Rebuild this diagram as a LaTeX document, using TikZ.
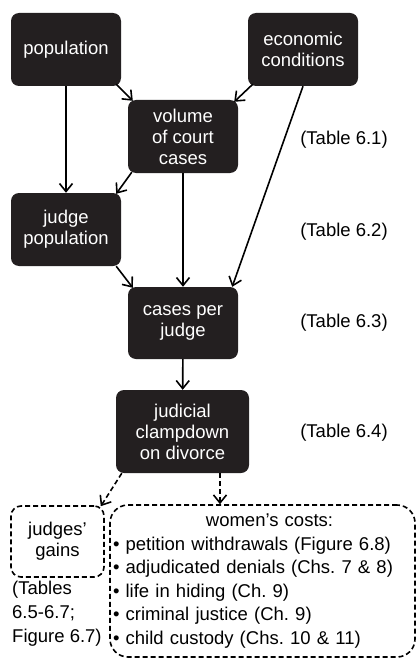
\documentclass[tikz,border=0pt]{standalone}
\usepackage{fontspec}
\setmainfont{Liberation Sans}
\usetikzlibrary{arrows.meta,positioning,calc}
\definecolor{boxblack}{HTML}{231F20}
\frenchspacing

\begin{document}
\begin{tikzpicture}
[x=1pt,y=-1pt,
font=\fontsize{18.5}{21}\selectfont,
>={Straight Barb[length=8pt,width=13pt]},
box/.style={rectangle,rounded corners=8pt,fill=boxblack,text=white,align=center,
  minimum width=110pt,minimum height=73pt,inner sep=0pt},
dbox/.style={rectangle,draw,line width=1.6pt,dash pattern=on 5pt off 3pt,align=center,inner sep=0pt},
note/.style={align=center,inner sep=0pt},
edge/.style={->,line width=1.6pt},
dedge/.style={edge,dash pattern=on 5pt off 3pt}]
\useasboundingbox (0,0) rectangle (417,658);
%% Causes
\node[box] (pop) at (66,49.5) {population};
\node[box] (econ) at (303,49.5) {economic\\conditions};
\node[box] (vol) at (183,136.5) {volume\\of court\\cases};
\node[box] (jpop) at (66,229.5) {judge\\population};
\node[box,minimum height=72pt] (cpj) at (183,323) {cases per\\judge};
\node[box,minimum width=133pt,minimum height=83pt] (clamp) at (182.5,431.5) {judicial\\clampdown\\on divorce};
% table notes
\node[note] (t1) at (344,140) {(Table 6.1)};
\node[note] (t2) at (344,232) {(Table 6.2)};
\node[note] (t3) at (344,323) {(Table 6.3)};
\node[note] (t4) at (344,433) {(Table 6.4)};
%%%%%%%%%%%%%%%%%%%%%%%%%%%%%
%% Consequences
\node[dbox,rounded corners=10pt,minimum width=93pt,minimum height=71pt] (gains) at (57.5,541.5) {judges’\\gains};
\node[note,anchor=west,align=left,font=\fontsize{18.5}{24}\selectfont] (tgains) at (12,614) {(Tables\\6.5-6.7;\\Figure 6.7)};
\node[dbox,rounded corners=18pt,minimum width=305pt,minimum height=152pt,text width=299pt,
  align=left,font=\fontsize{18.5}{23.5}\selectfont] (costs) at (262.5,581)
  {{\centering\hspace*{14pt}women’s costs:\par}
   \textbullet\ petition withdrawals (Figure 6.8)\\
   \textbullet\ adjudicated denials (Chs. 7 \& 8)\\
   \textbullet\ life in hiding (Ch. 9)\\
   \textbullet\ criminal justice (Ch. 9)\\
   \textbullet\ child custody (Chs. 10 \& 11)};
% edges
\draw[edge] (pop) -- (jpop);
\draw[edge] ($(pop.south east)+(-5,-2)$) -- ($(vol.north west)+(5,1)$);
\draw[edge] ($(econ.south west)+(5,-2)$) -- ($(vol.north east)+(-4,2)$);
\draw[edge] (econ.south) -- ($(cpj.north east)+(-6,0)$);
\draw[edge] ($(vol.south west)+(4,-1)$) -- ($(jpop.north east)+(-5,1)$);
\draw[edge] (vol) -- (cpj);
\draw[edge] ($(jpop.south east)+(-5,0)$) -- ($(cpj.north west)+(5,1)$);
\draw[edge] (cpj) -- (clamp);
\draw[dedge] ($(clamp.south west)+(6,0)$) -- ($(gains.north east)+(-4,1)$);
\draw[dedge] ($(clamp.south)+(37.5,0)$) coordinate (c1) -- (c1 |- costs.north);
\end{tikzpicture}
\end{document}
